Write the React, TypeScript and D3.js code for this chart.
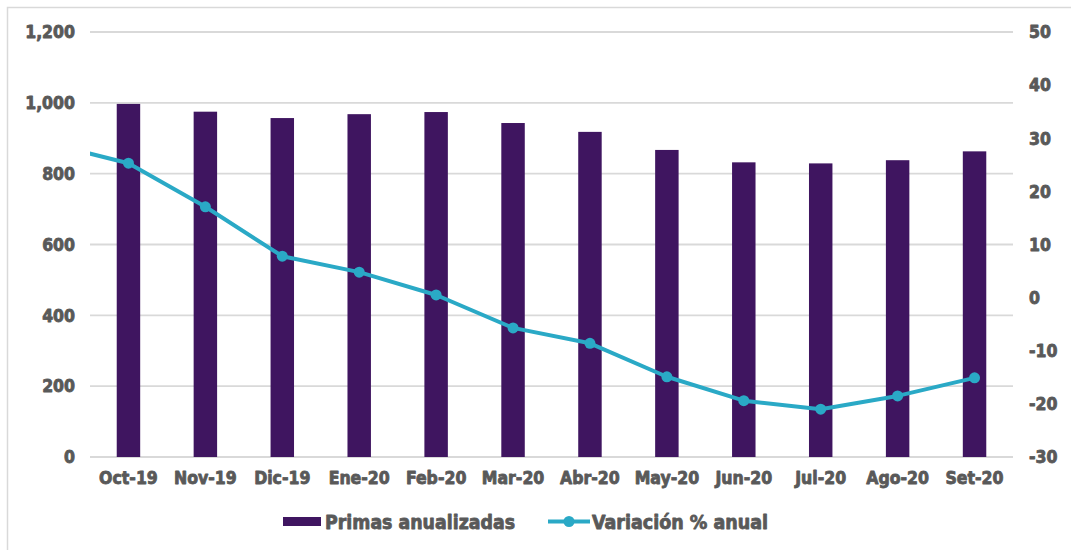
import React, { useEffect, useRef } from 'react';
import * as d3 from 'd3';

const months = ['Oct-19', 'Nov-19', 'Dic-19', 'Ene-20', 'Feb-20', 'Mar-20', 'Abr-20', 'May-20', 'Jun-20', 'Jul-20', 'Ago-20', 'Set-20'];
const primas = [997, 975, 957, 968, 974, 943, 918, 867, 832, 829, 838, 863];
const variacion = [25.3, 17.1, 7.8, 4.8, 0.5, -5.7, -8.6, -14.9, -19.4, -21.0, -18.5, -15.1];
// previous month (Sep-19) value, only the tail of its segment is visible
const prevVariacion = 28.9;
const leftTicks = [0, 200, 400, 600, 800, 1000, 1200];
const rightTicks = [-30, -20, -10, 0, 10, 20, 30, 40, 50];

const W = 1071;
const H = 550;
const font = '"DejaVu Sans Condensed", "DejaVu Sans", sans-serif';
const textColor = '#595959';
const barColor = '#3f1560';
const lineColor = '#2aa9c6';

const App = () => {
    const ref = useRef<SVGSVGElement>(null);

    useEffect(() => {
        const svg = d3.select(ref.current);
        svg.selectAll('*').remove();

        const margin = { top: 32, right: 58, bottom: 93, left: 90 };
        const x0 = margin.left;
        const x1 = W - margin.right;
        const y0 = H - margin.bottom;
        const y1 = margin.top;

        // outer border
        svg.append('rect')
            .attr('x', 7.5).attr('y', 7.5)
            .attr('width', W).attr('height', H)
            .attr('fill', 'none')
            .attr('stroke', '#d9d9d9')
            .attr('stroke-width', 1.5);

        const x = d3.scaleBand().domain(months).range([x0, x1]).paddingInner(0.695).paddingOuter(0.3475);
        const yL = d3.scaleLinear().domain([0, 1200]).range([y0, y1]);
        const yR = d3.scaleLinear().domain([-30, 50]).range([y0, y1]);

        const heavy = (sel: any, size: number) => sel
            .attr('font-family', font).attr('font-weight', 'bold').attr('font-size', size)
            .attr('fill', textColor).attr('stroke', textColor).attr('stroke-width', 0.8)
            .attr('stroke-linejoin', 'round');

        // gridlines
        svg.append('g').selectAll('line')
            .data(leftTicks)
            .enter().append('line')
            .attr('x1', x0).attr('x2', x1)
            .attr('y1', d => yL(d)).attr('y2', d => yL(d))
            .attr('stroke', '#d9d9d9')
            .attr('stroke-width', 1.8);

        // left axis labels
        heavy(svg.append('g'), 17.5).selectAll('text')
            .data(leftTicks)
            .enter().append('text')
            .attr('x', 75)
            .attr('y', d => yL(d))
            .attr('dy', '0.36em')
            .attr('text-anchor', 'end')
            .text(d => d3.format(',')(d));

        // right axis labels
        heavy(svg.append('g'), 17.5).selectAll('text')
            .data(rightTicks)
            .enter().append('text')
            .attr('x', 1029)
            .attr('y', d => yR(d))
            .attr('dy', '0.36em')
            .attr('text-anchor', 'start')
            .text(d => d);

        // bars
        svg.append('g').selectAll('rect')
            .data(primas)
            .enter().append('rect')
            .attr('x', (d, i) => x(months[i])!)
            .attr('y', d => yL(d))
            .attr('width', x.bandwidth())
            .attr('height', d => y0 - yL(d))
            .attr('fill', barColor);

        // category labels
        heavy(svg.append('g'), 17.5).selectAll('text')
            .data(months)
            .enter().append('text')
            .attr('x', d => x(d)! + x.bandwidth() / 2)
            .attr('y', 478)
            .attr('dy', '0.36em')
            .attr('text-anchor', 'middle')
            .text(d => d);

        // line
        const step = x.step();
        const cx = (i: number) => x(months[0])! + x.bandwidth() / 2 + i * step;
        const pts: [number, number][] = [[cx(-1), yR(prevVariacion)], ...variacion.map((v, i) => [cx(i), yR(v)] as [number, number])];

        svg.append('clipPath').attr('id', 'plotclip')
            .append('rect').attr('x', x0).attr('y', 0).attr('width', x1 - x0).attr('height', H);

        svg.append('path')
            .datum(pts)
            .attr('clip-path', 'url(#plotclip)')
            .attr('d', d3.line())
            .attr('fill', 'none')
            .attr('stroke', lineColor)
            .attr('stroke-width', 4)
            .attr('stroke-linejoin', 'round');

        svg.append('g').selectAll('circle')
            .data(variacion)
            .enter().append('circle')
            .attr('cx', (d, i) => cx(i))
            .attr('cy', d => yR(d))
            .attr('r', 5.5)
            .attr('fill', lineColor);

        // legend
        const lg = svg.append('g');
        lg.append('rect').attr('x', 283).attr('y', 517).attr('width', 38).attr('height', 9).attr('fill', barColor);
        heavy(lg.append('text'), 20).attr('x', 325).attr('y', 521.5).attr('dy', '0.36em')
            .attr('textLength', 190).attr('lengthAdjust', 'spacingAndGlyphs').text('Primas anualizadas');
        lg.append('line').attr('x1', 548).attr('x2', 590).attr('y1', 521.5).attr('y2', 521.5)
            .attr('stroke', lineColor).attr('stroke-width', 4);
        lg.append('circle').attr('cx', 569).attr('cy', 521.5).attr('r', 5.5).attr('fill', lineColor);
        heavy(lg.append('text'), 20).attr('x', 592).attr('y', 521.5).attr('dy', '0.36em')
            .attr('textLength', 176).attr('lengthAdjust', 'spacingAndGlyphs').text('Variación % anual');
    }, []);

    return (
        <svg ref={ref} width={W} height={H} style={{ position: 'absolute', left: 0, top: 0, background: '#fff' }} />
    );
};

export default App;
